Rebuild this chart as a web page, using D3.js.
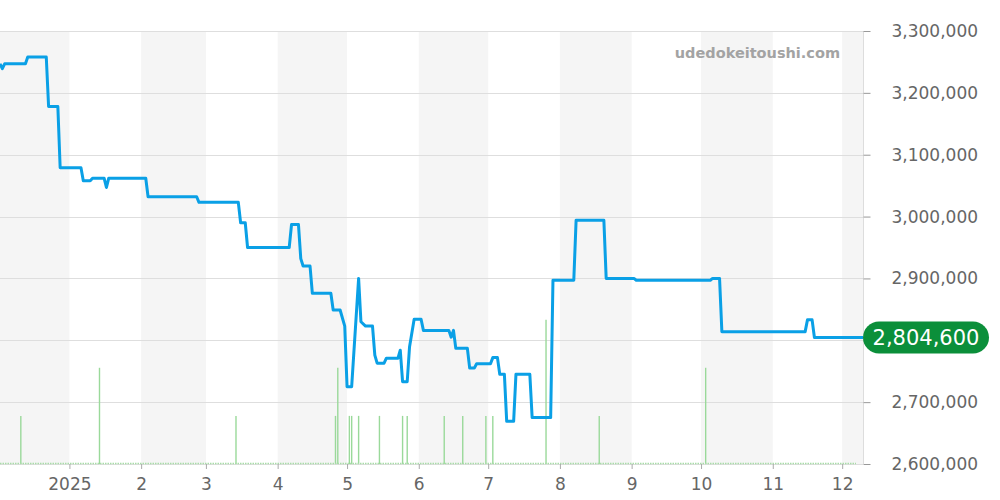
<!DOCTYPE html>
<html>
<head>
<meta charset="utf-8">
<script src="https://cdn.jsdelivr.net/npm/d3@7"></script>
<style>
  body { margin: 0; background: #fff; }
  svg { display: block; font-family: "DejaVu Sans", sans-serif; }
</style>
</head>
<body>
<div id="chart"></div>
<script>
// Price series (date, yen)
var priceDates = [
  "2024-12-02","2024-12-03","2024-12-04","2024-12-13","2024-12-14","2024-12-22","2024-12-23","2024-12-27",
  "2024-12-28","2025-01-06","2025-01-07","2025-01-10","2025-01-11","2025-01-16","2025-01-17","2025-01-18",
  "2025-02-03","2025-02-04","2025-02-25","2025-02-26","2025-03-15","2025-03-16","2025-03-18","2025-03-19",
  "2025-04-06","2025-04-07","2025-04-10","2025-04-11","2025-04-12","2025-04-15","2025-04-16","2025-04-24",
  "2025-04-25","2025-04-28","2025-04-30","2025-05-01","2025-05-03","2025-05-06","2025-05-07","2025-05-09",
  "2025-05-12","2025-05-13","2025-05-14","2025-05-17","2025-05-18","2025-05-23","2025-05-24","2025-05-25",
  "2025-05-27","2025-05-28","2025-05-30","2025-06-02","2025-06-03","2025-06-14","2025-06-15","2025-06-16",
  "2025-06-17","2025-06-22","2025-06-23","2025-06-25","2025-06-26","2025-07-02","2025-07-03","2025-07-05",
  "2025-07-06","2025-07-08","2025-07-09","2025-07-12","2025-07-13","2025-07-19","2025-07-20","2025-07-28",
  "2025-07-29","2025-08-07","2025-08-08","2025-08-20","2025-08-21","2025-09-02","2025-09-03","2025-10-05",
  "2025-10-06","2025-10-09","2025-10-10","2025-11-15","2025-11-16","2025-11-18","2025-11-19","2025-12-10"
];
var priceValues = [
  3247000,3239000,3247000,3247000,3258000,3258000,3178000,3178000,
  3079000,3079000,3058000,3058000,3062000,3062000,3047000,3062000,
  3062000,3032000,3032000,3023000,3023000,2990000,2990000,2950000,
  2950000,2987000,2987000,2932000,2920000,2920000,2876000,2876000,
  2849000,2849000,2823000,2725000,2725000,2900000,2830000,2823000,
  2823000,2776000,2763000,2763000,2771000,2771000,2784000,2733000,
  2733000,2789000,2834000,2834000,2816000,2816000,2805000,2816000,
  2787000,2787000,2755000,2755000,2762000,2762000,2772000,2772000,
  2745000,2745000,2669000,2669000,2745000,2745000,2675000,2675000,
  2897000,2897000,2994000,2994000,2900000,2900000,2897000,2897000,
  2900000,2900000,2814000,2814000,2833000,2833000,2804600,2804600
];

// Trade volume (date, count)
var volumeDates = [
  "2024-12-11","2025-01-14","2025-03-14","2025-04-26","2025-04-27","2025-05-02","2025-05-03","2025-05-06",
  "2025-05-15","2025-05-25","2025-05-27","2025-06-12","2025-06-20","2025-06-30","2025-07-03","2025-07-26",
  "2025-08-18","2025-10-03"
];
var volumeValues = [1,2,1,1,2,1,1,1,1,1,1,1,1,1,1,3,1,2];

var yTicks = [2600000,2700000,2800000,2900000,3000000,3100000,3200000,3300000];
var startDate = "2024-12-02", endDate = "2025-12-10";
var watermark = "udedokeitoushi.com";

var width = 1000, height = 500;
var plotLeft = 0, plotRight = 863, plotTop = 31, plotBottom = 464;

var parse = d3.utcParse("%Y-%m-%d");
var prices = priceDates.map((d, i) => ({date: parse(d), value: priceValues[i]}));
var volumes = volumeDates.map((d, i) => ({date: parse(d), value: volumeValues[i]}));
var lastPrice = prices[prices.length - 1].value;

var x = d3.scaleUtc()
    .domain([parse(startDate), parse(endDate)])
    .range([plotLeft, plotRight]);

var y = d3.scaleLinear()
    .domain([2600000, 3300000])
    .range([plotBottom, plotTop]);

var yVol = d3.scaleLinear()
    .domain([0, 9])
    .range([plotBottom, plotTop]);

var svg = d3.select("#chart").append("svg")
    .attr("width", width)
    .attr("height", height);

// Alternating month bands
var months = d3.utcMonth.range(d3.utcMonth.floor(x.domain()[0]), x.domain()[1]);
svg.append("g").selectAll("rect")
    .data(months.filter(m => m.getUTCMonth() % 2 === 1))
    .join("rect")
    .attr("x", d => Math.max(plotLeft, x(d)))
    .attr("y", plotTop)
    .attr("width", d => Math.min(plotRight, x(d3.utcMonth.offset(d, 1))) - Math.max(plotLeft, x(d)))
    .attr("height", plotBottom - plotTop)
    .attr("fill", "#f5f5f5");

// Grid lines
svg.append("g").selectAll("line")
    .data(yTicks)
    .join("line")
    .attr("x1", plotLeft)
    .attr("x2", plotRight)
    .attr("y1", d => Math.round(y(d)) + 0.5)
    .attr("y2", d => Math.round(y(d)) + 0.5)
    .attr("stroke", "#dedede");

// Volume bars
svg.append("g").selectAll("line")
    .data(volumes)
    .join("line")
    .attr("x1", d => x(d.date))
    .attr("x2", d => x(d.date))
    .attr("y1", yVol(0))
    .attr("y2", d => yVol(d.value))
    .attr("stroke", "#9ad99a")
    .attr("stroke-width", 1.4);

// dotted zero-volume baseline
svg.append("line")
    .attr("x1", plotLeft)
    .attr("x2", plotRight - 7)
    .attr("y1", yVol(0) - 0.5)
    .attr("y2", yVol(0) - 0.5)
    .attr("stroke", "#a8dca8")
    .attr("stroke-width", 1.5)
    .attr("stroke-dasharray", "1.5,1");

// Right axis
var yAxis = d3.axisRight(y)
    .tickValues(yTicks)
    .tickSize(7)
    .tickPadding(21)
    .tickFormat(d3.format(","));

var gy = svg.append("g")
    .attr("transform", `translate(${plotRight + 0.5},0)`)
    .call(yAxis);
gy.select(".domain").attr("stroke", "#dddddd").attr("d", `M0,${plotTop}V${plotBottom}`);
gy.selectAll(".tick line").attr("stroke", "#999");
gy.selectAll(".tick text")
    .attr("fill", "#666")
    .style("font-size", "17px")
    .style("font-family", "DejaVu Sans");
// the last-price badge covers the nearest tick label
gy.selectAll(".tick").filter(d => Math.abs(y(d) - y(lastPrice)) < 20).select("text").remove();

// Bottom axis
var xAxis = d3.axisBottom(x)
    .ticks(d3.utcMonth.every(1))
    .tickSize(5)
    .tickPadding(9)
    .tickFormat(d => d.getUTCMonth() === 0 ? d3.utcFormat("%Y")(d) : (d.getUTCMonth() + 1));

var gx = svg.append("g")
    .attr("transform", `translate(0,${plotBottom})`)
    .call(xAxis);
gx.select(".domain").remove();
gx.selectAll(".tick").filter(d => x(d) < plotLeft + 1).remove();
gx.selectAll(".tick line").attr("stroke", "#aaa");
gx.selectAll(".tick text")
    .attr("fill", "#666")
    .style("font-size", "17px")
    .style("font-family", "DejaVu Sans");

// Price line
var line = d3.line()
    .x(d => x(d.date))
    .y(d => y(d.value));

svg.append("path")
    .datum(prices)
    .attr("fill", "none")
    .attr("stroke", "#0aa0e6")
    .attr("stroke-width", 3)
    .attr("stroke-linejoin", "round")
    .attr("d", line);

// Watermark
svg.append("text")
    .attr("x", 840)
    .attr("y", 58)
    .attr("text-anchor", "end")
    .attr("fill", "#a3a3a3")
    .style("font-size", "14.5px")
    .style("font-weight", "bold")
    .text(watermark);

// Last price label
var lab = svg.append("g")
    .attr("transform", `translate(${plotRight},${y(lastPrice)})`);
lab.append("rect")
    .attr("x", 0)
    .attr("y", -16)
    .attr("width", 126)
    .attr("height", 32)
    .attr("rx", 16)
    .attr("fill", "#0b8f3a");
lab.append("text")
    .attr("x", 63)
    .attr("y", 8)
    .attr("text-anchor", "middle")
    .attr("fill", "#fff")
    .style("font-size", "21px")
    .text(d3.format(",")(lastPrice));
</script>
</body>
</html>
